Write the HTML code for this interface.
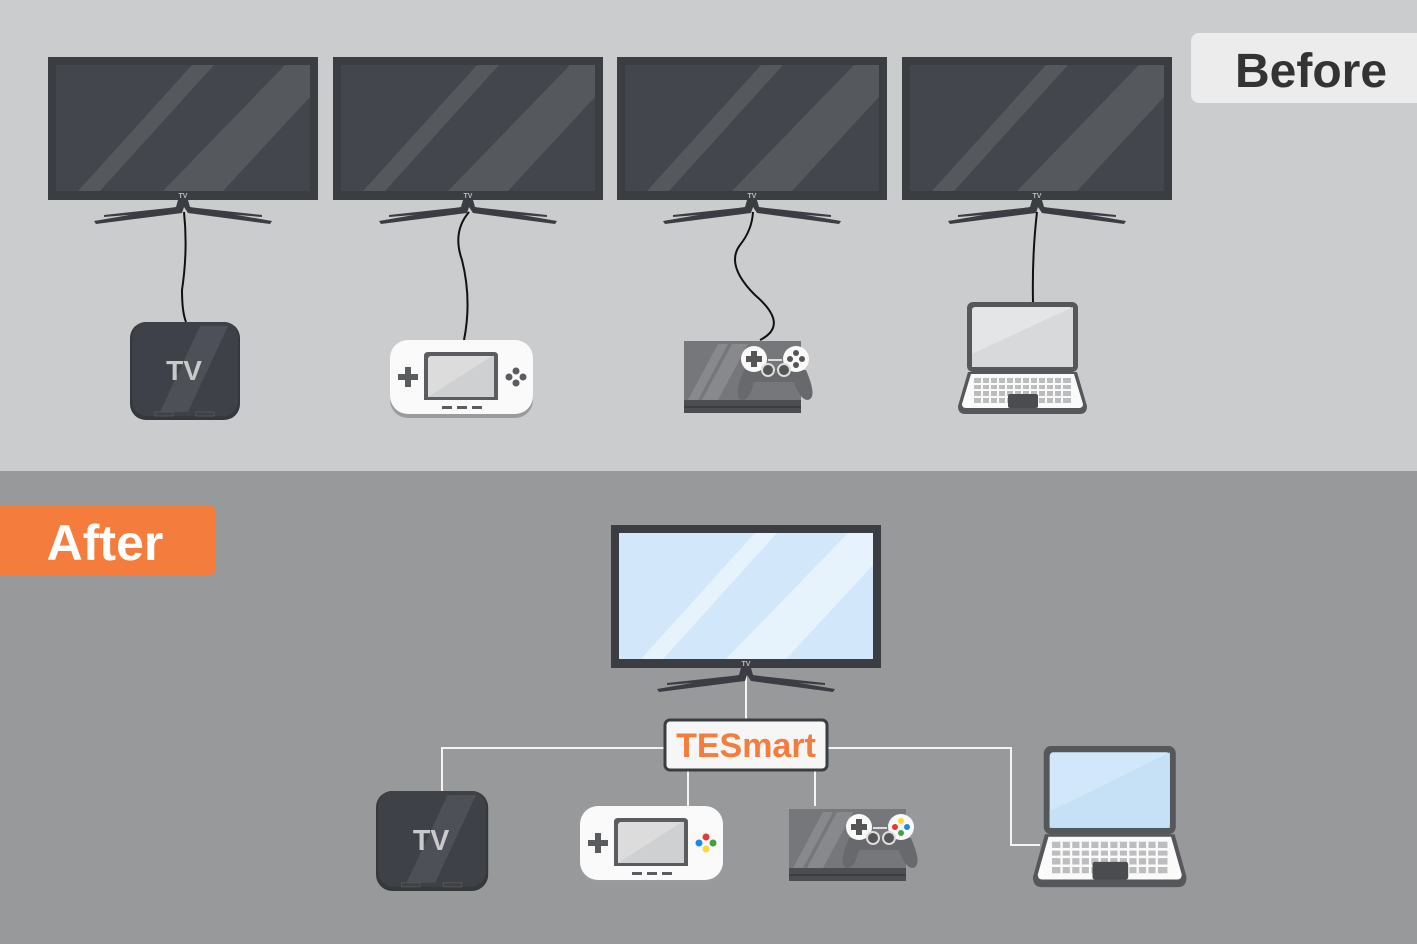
<!DOCTYPE html>
<html><head><meta charset="utf-8"><style>
html,body{margin:0;padding:0;width:1417px;height:944px;overflow:hidden;font-family:"Liberation Sans",sans-serif}
</style></head><body>
<svg width="1417" height="944" viewBox="0 0 1417 944" xmlns="http://www.w3.org/2000/svg">
<defs>
  <g id="tv">
    <rect x="0" y="0" width="270" height="143" fill="#3a3d42"/>
    <rect x="8" y="8" width="254" height="126" style="fill:var(--scr,#43464c)"/>
    <polygon points="30,134 52,134 166,8 144,8" style="fill:var(--gl,#55585d)"/>
    <polygon points="115,134 175,134 262,40 262,8 237,8" style="fill:var(--gl,#55585d)"/>
    <text x="135" y="141" font-size="7" fill="#bbb" text-anchor="middle" font-weight="bold">TV</text>
    <path d="M130,143 L140,143 L142,150 L224,164 L222,167 L140,156 L136,150 L134,156 L48,167 L46,164 L128,150 Z" fill="#3a3d42"/>
    <path d="M140,150 L214,158 L214,160 L140,154 Z M130,150 L56,158 L56,160 L130,154 Z" fill="#3a3d42"/>
  </g>
  <g id="tvbox">
    <rect x="0" y="0" width="110" height="98" rx="16" fill="#34373c"/>
    <rect x="2" y="0" width="106" height="94" rx="15" fill="#3e4147"/>
    <polygon points="30,90 50,90 90,4 70,4" fill="#4d5056"/>
    <polygon points="44,90 58,90 98,4 84,4" fill="#4d5056"/>
    <text x="54" y="58" font-size="28" font-weight="bold" fill="#c8c9cb" text-anchor="middle">TV</text>
    <rect x="25" y="90" width="18" height="4" fill="none" stroke="#555" stroke-width="1"/>
    <rect x="66" y="90" width="18" height="4" fill="none" stroke="#555" stroke-width="1"/>
  </g>
  <g id="pad">
    <rect x="0" y="2" width="143" height="76" rx="18" fill="#9a9b9d"/>
    <rect x="0" y="0" width="143" height="74" rx="18" fill="#fafafa"/>
    <path d="M38,12 L104,12 Q108,12 108,16 L108,60 L34,60 L34,16 Q34,12 38,12Z" fill="#5a5c60"/>
    <polygon points="38,57 102,57 104,18 102,16 40,16 38,18" fill="#dcdcdd"/>
    <polygon points="38,57 102,16 104,16 104,57" fill="#cfd0d1"/>
    <rect x="8" y="34" width="20" height="6" fill="#5a5c60"/><rect x="15" y="27" width="6" height="20" fill="#5a5c60"/>
    <circle cx="126" cy="31" r="3.5" style="fill:var(--b1,#5a5c60)"/><circle cx="119" cy="37" r="3.5" style="fill:var(--b2,#5a5c60)"/>
    <circle cx="133" cy="37" r="3.5" style="fill:var(--b3,#5a5c60)"/><circle cx="126" cy="43" r="3.5" style="fill:var(--b4,#5a5c60)"/>
    <rect x="52" y="66" width="10" height="3" fill="#5a5c60"/><rect x="67" y="66" width="10" height="3" fill="#5a5c60"/><rect x="82" y="66" width="10" height="3" fill="#5a5c60"/>
  </g>
  <g id="ps">
    <rect x="0" y="3" width="117" height="62" fill="#76777a"/>
    <polygon points="4,62 14,62 44,6 34,6" fill="#88898c"/>
    <polygon points="18,62 34,62 64,6 48,6" fill="#88898c"/>
    <rect x="0" y="62" width="117" height="13" fill="#4b4d51"/>
    <rect x="0" y="68" width="117" height="2" fill="#3b3d40"/>
    <path d="M60,32 Q48,60 58,62 Q66,62 70,44 L110,44 Q116,62 124,62 Q134,60 122,32 Z" fill="#68696c"/>
    <circle cx="70" cy="21" r="13" fill="#fafafa"/><circle cx="112" cy="21" r="13" fill="#fafafa"/>
    <rect x="62" y="18" width="16" height="6" fill="#555"/><rect x="67" y="13" width="6" height="16" fill="#555"/>
    <circle cx="112" cy="15" r="3" style="fill:var(--b1,#555)"/><circle cx="106" cy="21" r="3" style="fill:var(--b2,#555)"/>
    <circle cx="118" cy="21" r="3" style="fill:var(--b3,#555)"/><circle cx="112" cy="27" r="3" style="fill:var(--b4,#555)"/>
    <circle cx="84" cy="32" r="6" fill="#555" stroke="#ddd" stroke-width="2"/><circle cx="100" cy="32" r="6" fill="#555" stroke="#ddd" stroke-width="2"/>
    <rect x="84" y="21" width="14" height="2" fill="#ddd"/>
  </g>
  <g id="lap">
    <rect x="9" y="0" width="111" height="70" rx="6" fill="#55575b"/>
    <rect x="14" y="5" width="101" height="60" rx="3" style="fill:var(--scr,#e4e5e6)"/>
    <polygon points="14,52 115,5 115,5 115,65 14,65" style="fill:var(--scr2,#d8d9da)"/>
    <path d="M10,70 L119,70 L129,104 Q129,112 122,112 L7,112 Q0,112 0,104 Z" fill="#55575b"/>
    <path d="M13,72 L116,72 L125,102 Q125,106 121,106 L8,106 Q4,106 4,102 Z" fill="#fafafa"/>
    <g fill="#bcbdbf">
      <rect x="16" y="76" width="97" height="25"/>
    </g>
    <g stroke="#fafafa" stroke-width="2">
      <line x1="16" y1="82" x2="113" y2="82"/><line x1="16" y1="88" x2="113" y2="88"/><line x1="16" y1="95" x2="113" y2="95"/>
      <line x1="24" y1="76" x2="24" y2="101"/><line x1="32" y1="76" x2="32" y2="101"/><line x1="40" y1="76" x2="40" y2="101"/><line x1="48" y1="76" x2="48" y2="101"/><line x1="56" y1="76" x2="56" y2="101"/><line x1="64" y1="76" x2="64" y2="101"/><line x1="72" y1="76" x2="72" y2="101"/><line x1="80" y1="76" x2="80" y2="101"/><line x1="88" y1="76" x2="88" y2="101"/><line x1="96" y1="76" x2="96" y2="101"/><line x1="104" y1="76" x2="104" y2="101"/>
    </g>
    <rect x="50" y="92" width="30" height="14" rx="2" fill="#4a4c50"/>
  </g>
</defs>

<rect x="0" y="0" width="1417" height="471" fill="#cbcccd"/>
<rect x="0" y="471" width="1417" height="473" fill="#98999b"/>

<!-- Before label -->
<rect x="1191" y="33" width="240" height="70" rx="8" fill="#ececec"/>
<text x="1311" y="87" font-size="48" font-weight="bold" fill="#333" text-anchor="middle">Before</text>

<!-- TVs top -->
<use href="#tv" x="48" y="57"/>
<use href="#tv" x="333" y="57"/>
<use href="#tv" x="617" y="57"/>
<use href="#tv" x="902" y="57"/>

<!-- cables -->
<g fill="none" stroke="#111" stroke-width="2">
  <path d="M184,212 Q188,250 182,290 Q182,312 186,322"/>
  <path d="M469,212 Q452,232 462,260 Q472,300 464,340"/>
  <path d="M753,212 Q752,230 740,245 Q725,265 755,295 Q790,325 760,340"/>
  <path d="M1037,212 Q1032,255 1033,302"/>
</g>

<use href="#tvbox" x="130" y="322"/>
<use href="#pad" x="390" y="340"/>
<use href="#ps" x="684" y="338"/>
<use href="#lap" x="958" y="302"/>

<!-- After label -->
<rect x="-10" y="505" width="226" height="71" rx="8" fill="#f47c3c"/>
<text x="105" y="560" font-size="50" font-weight="bold" fill="#fff" text-anchor="middle">After</text>

<!-- connectors -->
<g fill="none" stroke="#f4f4f4" stroke-width="2">
  <line x1="746" y1="668" x2="746" y2="720"/>
  <path d="M442,792 L442,748 L664,748"/>
  <path d="M828,748 L1011,748 L1011,845 L1040,845"/>
  <line x1="688" y1="771" x2="688" y2="806"/>
  <line x1="815" y1="771" x2="815" y2="806"/>
</g>

<use href="#tv" x="611" y="525" style="--scr:#d2e8fa;--gl:#e6f2fc"/>

<rect x="665" y="720" width="162" height="50" rx="5" fill="#f6f6f6" stroke="#3a3d42" stroke-width="3"/>
<text x="746" y="757" font-size="34" font-weight="bold" fill="#f47c3c" text-anchor="middle">TESmart</text>

<use href="#tvbox" transform="translate(376,791) scale(1.02)"/>
<use href="#pad" x="580" y="806" style="--b1:#e53935;--b2:#1e88e5;--b3:#43a047;--b4:#fdd835"/>
<use href="#ps" x="789" y="806" style="--b1:#fdd835;--b2:#e53935;--b3:#1e88e5;--b4:#43a047"/>
<use href="#lap" transform="translate(1033,746) scale(1.19,1.26)" style="--scr:#d2e8fa;--scr2:#c6e0f6"/>
</svg>
</body></html>
